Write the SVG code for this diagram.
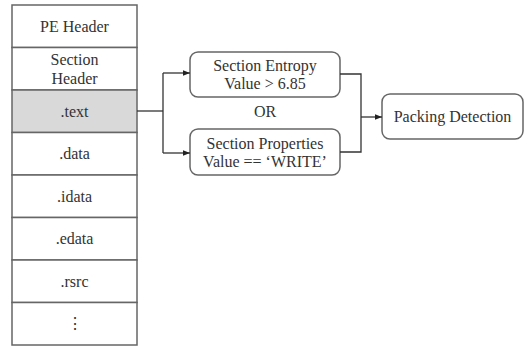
<svg xmlns="http://www.w3.org/2000/svg" width="532" height="347" viewBox="0 0 532 347">
  <defs>
    <marker id="arrow" viewBox="0 0 10 10" refX="10" refY="5" markerWidth="7" markerHeight="7" orient="auto" markerUnits="userSpaceOnUse">
      <path d="M0,1 L10,5 L0,9 z" fill="#222"/>
    </marker>
  </defs>
  <style>
    .cell { fill: #ffffff; stroke: #666; stroke-width: 1.5; }
    .cell.hl { fill: #d9d9d9; }
    .box { fill: #ffffff; stroke: #666; stroke-width: 1.5; }
    .lbl { font-family: "Liberation Serif", "Times New Roman", serif; font-size: 16px; fill: #333; text-anchor: middle; }
    .wire { fill: none; stroke: #333; stroke-width: 1.3; }
  </style>
  <rect width="532" height="347" fill="#ffffff"/>

  <!-- PE file layout column -->
  <g id="pe-header">
    <rect class="cell" x="12" y="5" width="125" height="42.5"/>
    <text class="lbl" x="74.5" y="32">PE Header</text>
  </g>
  <g id="section-header">
    <rect class="cell" x="12" y="47.5" width="125" height="42.5"/>
    <text class="lbl" x="74.5" y="65">Section</text>
    <text class="lbl" x="74.5" y="84">Header</text>
  </g>
  <g id="sec-text">
    <rect class="cell hl" x="12" y="90" width="125" height="42.5"/>
    <text class="lbl" x="74.5" y="117">.text</text>
  </g>
  <g id="sec-data">
    <rect class="cell" x="12" y="132.5" width="125" height="42.5"/>
    <text class="lbl" x="74.5" y="159">.data</text>
  </g>
  <g id="sec-idata">
    <rect class="cell" x="12" y="175" width="125" height="42.5"/>
    <text class="lbl" x="74.5" y="202">.idata</text>
  </g>
  <g id="sec-edata">
    <rect class="cell" x="12" y="217.5" width="125" height="42.5"/>
    <text class="lbl" x="74.5" y="244">.edata</text>
  </g>
  <g id="sec-rsrc">
    <rect class="cell" x="12" y="260" width="125" height="42.5"/>
    <text class="lbl" x="74.5" y="287">.rsrc</text>
  </g>
  <g id="sec-more">
    <rect class="cell" x="12" y="302.5" width="125" height="42.5"/>
    <text class="lbl" x="74.5" y="329">⋮</text>
  </g>

  <!-- condition boxes -->
  <g id="entropy">
    <rect class="box" x="190" y="52" width="150" height="45" rx="8"/>
    <text class="lbl" x="265" y="71">Section Entropy</text>
    <text class="lbl" x="265" y="89">Value &gt; 6.85</text>
  </g>
  <text class="lbl" x="265" y="117">OR</text>
  <g id="properties">
    <rect class="box" x="190" y="129" width="150" height="46" rx="8"/>
    <text class="lbl" x="265" y="149">Section Properties</text>
    <text class="lbl" x="265" y="167">Value == ‘WRITE’</text>
  </g>
  <g id="packing">
    <rect class="box" x="382" y="94" width="141" height="45" rx="8"/>
    <text class="lbl" x="452.5" y="122">Packing Detection</text>
  </g>

  <!-- connectors -->
  <g id="connectors">
    <path class="wire" d="M137,111 H163"/>
    <path class="wire" d="M163,73 V153"/>
    <path class="wire" d="M163,73 H190" marker-end="url(#arrow)"/>
    <path class="wire" d="M163,153 H190" marker-end="url(#arrow)"/>
    <path class="wire" d="M340,74 H361 V152 H340"/>
    <path class="wire" d="M361,117 H382" marker-end="url(#arrow)"/>
  </g>
</svg>
